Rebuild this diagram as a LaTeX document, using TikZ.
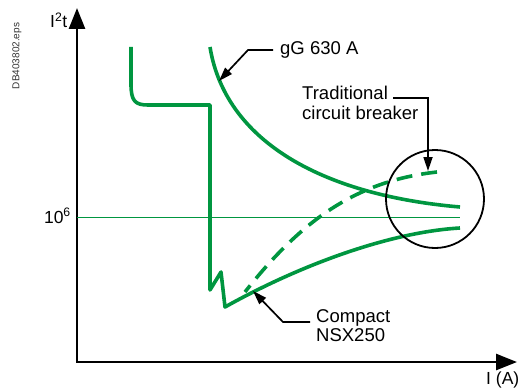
\documentclass[tikz,border=0pt]{standalone}
\usepackage{fontspec}
\setmainfont{Liberation Sans}
\usetikzlibrary{arrows.meta}
\definecolor{curvegreen}{RGB}{0,150,64}
\tikzset{
  curve/.style={curvegreen,line width=3.6pt,line join=round},
  leader/.style={line width=1.7pt,-{Triangle[length=14pt,width=9pt]}},
  callout/.style={font=\fontsize{18.5}{20}\selectfont,inner sep=0pt},
  axislabel/.style={font=\fontsize{17.5}{19}\selectfont,inner sep=0pt}
}
\begin{document}
\begin{tikzpicture}[x=1pt,y=-1pt]
  \useasboundingbox (0,0) rectangle (518,390);
  % axes
  \coordinate (top) at (77,8);
  \coordinate (O) at (77,362);
  \coordinate (right) at (517,362);
  \draw[line width=2.5pt,{Triangle[length=21pt,width=16pt]}-{Triangle[length=21pt,width=16pt]}] (top) -- (O) -- (right);
  \node[axislabel,anchor=base west] (ylab) at (50,28) {I\textsuperscript{2}t};
  \node[axislabel,anchor=base west] (xlab) at (486,384) {I (A)};
  \node[axislabel,anchor=base east] (level) at (71,223) {10\textsuperscript{6}};
  \node[rotate=90,font=\fontsize{10}{12}\selectfont,text=black!80,inner sep=0pt] (ref) at (17,56) {DB403802.eps};
  \draw[curvegreen,line width=0.9pt] (77,217) -- (460,217);
  % curves
  \draw[curve] (210,47) .. controls (225,140) and (320,195) .. (460,207);
  \draw[curve] (131,47) -- (131,84) .. controls (131,101) and (135,105) .. (148,105) -- (210,105)
    -- (210,290) -- (221,272) -- (225,307) .. controls (300,265) and (390,232) .. (460,228);
  \draw[curve,dash pattern=on 16pt off 9pt] (437,172) .. controls (355,181) and (300,222) .. (245,292);
  \draw[line width=1.8pt] (435,199) circle [radius=49pt];
  % labels
  \node[callout,anchor=base west] (gg) at (280,55) {gG 630 A};
  \node[callout,anchor=base west] (trad) at (302,100) {Traditional};
  \node[callout,anchor=base west] (tradb) at (302,120) {circuit breaker};
  \node[callout,anchor=base west] (comp) at (316,322) {Compact};
  \node[callout,anchor=base west] (compb) at (316,341) {NSX250};
  \coordinate (ggtip) at (219,81);
  \coordinate (tradtip) at (428,171);
  \coordinate (comptip) at (253,291);
  \draw[leader] ([xshift=-7pt,yshift=5pt]gg.base west) -- ++(-25,0) -- (ggtip);
  \draw[leader] ([xshift=5pt,yshift=2pt]trad.base east) -| (tradtip);
  \draw[leader] ([xshift=-6pt]comp.base west) -- ++(-27,0) -- (comptip);
\end{tikzpicture}
\end{document}
